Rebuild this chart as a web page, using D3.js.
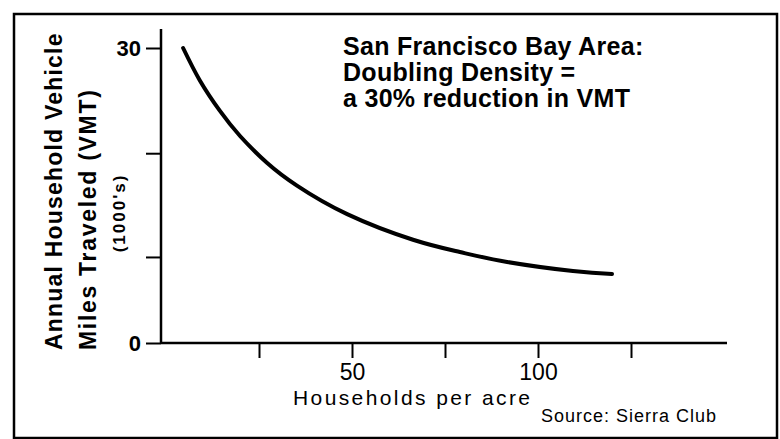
<!DOCTYPE html>
<html>
<head>
<meta charset="utf-8">
<script src="https://cdn.jsdelivr.net/npm/d3@7"></script>
<style>
body { margin: 0; background: #fff; }
svg { display: block; font-family: "Liberation Sans", Arial, Helvetica, sans-serif; }
</style>
</head>
<body>
<svg id="chart" width="780" height="439"></svg>
<script>
// values
var density = [4.6, 9.1, 14.5, 19.9, 27.2, 35.2, 48.7, 66.4, 79.0, 91.7, 109.4, 119.9];
var vmt = [30.0, 26.7, 23.6, 21.05, 18.3, 16.0, 13.1, 10.5, 9.25, 8.24, 7.32, 7.02];

var xTicks = [25, 50, 75, 100, 125];
var xTickLabels = ["", "50", "", "100", ""];
var yTicks = [0, 8.75, 19.3, 30];
var yTickLabels = ["0", "", "", "30"];

var titleLines = ["San Francisco Bay Area:", "Doubling Density =", "a 30% reduction in VMT"];
var yTitleLines = ["Annual Household Vehicle", "Miles Traveled (VMT)"];
var yUnits = "(1000's)";
var xTitle = "Households per acre";
var source = "Source: Sierra Club";

var svg = d3.select("#chart");

// frame
svg.append("rect")
	.attr("x", 14).attr("y", 14)
	.attr("width", 763).attr("height", 424)
	.attr("fill", "none")
	.attr("stroke", "#000")
	.attr("stroke-width", 2.5);

var x = d3.scaleLinear().domain([0, 150]).range([166, 724]);
var y = d3.scaleLinear().domain([0, 30]).range([343, 48]);

// x axis
var gx = svg.append("g")
	.attr("transform", "translate(0,343)")
	.call(d3.axisBottom(x)
		.tickValues(xTicks)
		.tickSize(15)
		.tickPadding(6)
		.tickFormat(function(d, i){ return xTickLabels[i]; }));
gx.select(".domain").remove();
gx.selectAll("line").attr("stroke-width", 2);
gx.selectAll("text")
	.style("font-size", "23px")
	.attr("fill", "#000");

// y axis
var gy = svg.append("g")
	.attr("transform", "translate(161,0)")
	.call(d3.axisLeft(y)
		.tickValues(yTicks)
		.tickSize(15)
		.tickPadding(5)
		.tickFormat(function(d, i){ return yTickLabels[i]; }));
gy.select(".domain").remove();
gy.selectAll("line").attr("stroke-width", 2);
gy.selectAll("text")
	.style("font-size", "22px")
	.style("font-weight", "bold")
	.attr("fill", "#000");

// axis lines
svg.append("line")
	.attr("x1", 161).attr("x2", 727)
	.attr("y1", 343).attr("y2", 343)
	.attr("stroke", "#000").attr("stroke-width", 2.5);
svg.append("line")
	.attr("x1", 161).attr("x2", 161)
	.attr("y1", 29).attr("y2", 344)
	.attr("stroke", "#000").attr("stroke-width", 2.5);

// curve
var pts = density.map(function(d, i){ return [d, vmt[i]]; });
var line = d3.line()
	.x(function(d){ return x(d[0]); })
	.y(function(d){ return y(d[1]); })
	.curve(d3.curveNatural);
svg.append("path")
	.datum(pts)
	.attr("d", line)
	.attr("fill", "none")
	.attr("stroke", "#000")
	.attr("stroke-width", 4)
	.attr("stroke-linecap", "round");

// title
svg.append("g").selectAll("text")
	.data(titleLines)
	.enter()
	.append("text")
	.attr("x", 343)
	.attr("y", function(d, i){ return 55 + i * 26; })
	.style("font-size", "25px")
	.style("font-weight", "bold")
	.style("letter-spacing", "0.3px")
	.text(function(d){ return d; });

// y title
svg.append("g").selectAll("text")
	.data(yTitleLines)
	.enter()
	.append("text")
	.attr("transform", function(d, i){ return "translate(" + (62 + i * 34) + ",350) rotate(-90)"; })
	.style("font-size", "23px")
	.style("font-weight", "bold")
	.style("letter-spacing", function(d, i){ return i == 0 ? "1.2px" : "1.7px"; })
	.text(function(d){ return d; });

svg.append("text")
	.attr("transform", "translate(125,213) rotate(-90)")
	.attr("text-anchor", "middle")
	.style("font-size", "17px")
	.style("font-weight", "bold")
	.style("letter-spacing", "2px")
	.text(yUnits);

// x title + source
svg.append("text")
	.attr("x", 293).attr("y", 405)
	.style("font-size", "21px")
	.style("letter-spacing", "2.4px")
	.text(xTitle);

svg.append("text")
	.attr("x", 541).attr("y", 422)
	.style("font-size", "18px")
	.style("letter-spacing", "1px")
	.text(source);
</script>
</body>
</html>
